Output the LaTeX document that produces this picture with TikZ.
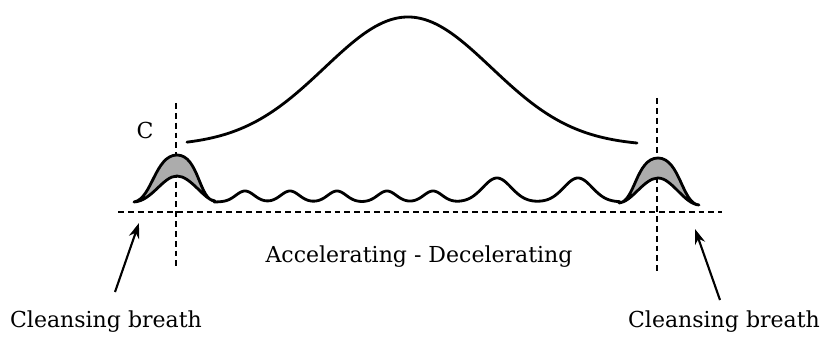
\documentclass[tikz,border=0pt]{standalone}
\usepackage{fontspec}
\setmainfont{DejaVu Serif}
\usetikzlibrary{arrows.meta}
\begin{document}
\begin{tikzpicture}[
        x=0.03cm, y=-0.03cm,
        font=\fontsize{18.8}{21}\selectfont,
        guide/.style={line width=1.9pt, dash pattern=on 5pt off 3.4pt},
        wave/.style={line width=2.4pt, line join=round, line cap=round},
        breath/.style={wave, fill=gray!65},
        label/.style={inner sep=0pt, anchor=center},
        arrow/.style={-{Stealth[length=13pt, width=9pt]}, line width=1.8pt}
    ]
    \useasboundingbox (0,0) rectangle (826,339);

    % Guide lines
    \draw[guide] (176,103) -- (176,270);
    \draw[guide] (657,98) -- (657,272);
    \draw[guide] (118,212) -- (722,212);

    % Main curve
    \draw[wave, domain=187:637, samples=80, smooth]
        plot (\x, {146 - 129*exp(-((\x-408)/118)^2)});

    % Cleansing breaths
    \draw[breath] (134,202) .. controls (152,199) and (155,155) .. (177,155)
        .. controls (199,155) and (199,201) .. (215,201)
        .. controls (204,200) and (191,176) .. (177,176)
        .. controls (163,176) and (152,201) .. (134,202) -- cycle;
    \draw[breath] (619,203) .. controls (635,202) and (636,158) .. (658,158)
        .. controls (680,158) and (682,204) .. (699,205)
        .. controls (684,204) and (672,178) .. (658,178)
        .. controls (644,178) and (632,202) .. (619,203) -- cycle;

    % Small waves
    \draw[wave, domain=214:620, samples=300, smooth]
        plot (\x, {202 - 11*exp(-((\x-245)/13)^2) - 11*exp(-((\x-290)/13)^2)
            - 11*exp(-((\x-337)/13)^2) - 11*exp(-((\x-387)/13)^2)
            - 11*exp(-((\x-433)/13)^2) - 24*exp(-((\x-497)/20)^2)
            - 24*exp(-((\x-578)/20)^2)});

    % Labels
    \node[label] (c) at (145,130) {C};
    \node[label] (phase) at (419,257) {Accelerating - Decelerating};
    \node[label] (cbl) at (106,322) {Cleansing breath};
    \node[label] (cbr) at (724,322) {Cleansing breath};

    % Pointers
    \coordinate (tl) at (115,292);
    \coordinate (hl) at (139,223);
    \coordinate (tr) at (720,300);
    \coordinate (hr) at (695,229);
    \draw[arrow] (tl) -- (hl);
    \draw[arrow] (tr) -- (hr);

    \end{tikzpicture}
\end{document}
